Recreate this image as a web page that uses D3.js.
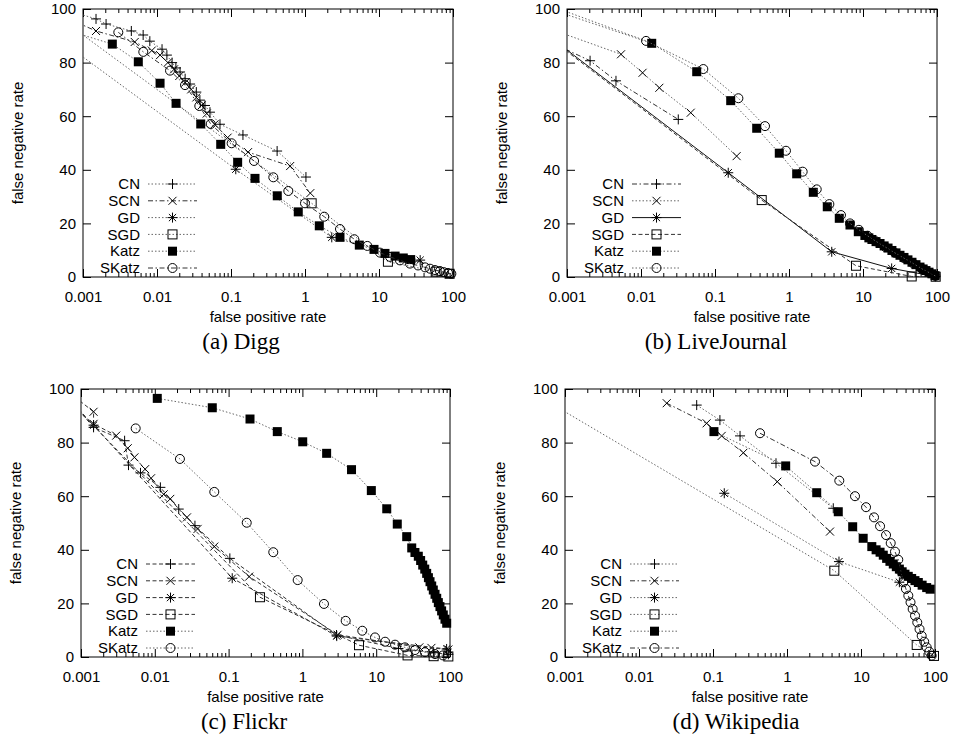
<!DOCTYPE html>
<html>
<head>
<meta charset="utf-8">
<script src="https://cdn.jsdelivr.net/npm/d3@7"></script>
<style>
    body { margin: 0; background: #fff; }
    svg text { font-family: "Liberation Sans", Arial, sans-serif; font-size: 15px; fill: #000; }
    svg text.caption { font-family: "Liberation Serif", "Times New Roman", serif; font-size: 23px; }
</style>
</head>
<body>
<div id="chart"></div>
<script>
// ---- data (false positive rate, false negative rate) ----
const methods = ["CN", "SCN", "GD", "SGD", "Katz", "SKatz"];
const xTicks = [0.001, 0.01, 0.1, 1, 10, 100];
const yTicks = [0, 20, 40, 60, 80, 100];

// (a) Digg
const diggCN = [[0.0006, 99.6], [0.0015, 96.3], [0.00205, 94.4], [0.0045, 91.8], [0.0065, 90.3], [0.008, 88], [0.0117, 85],
    [0.0136, 82.8], [0.016, 80], [0.018, 78], [0.0205, 76.5], [0.024, 74], [0.028, 72], [0.034, 69], [0.038, 66],
    [0.0445, 64], [0.052, 61.5], [0.071, 57], [0.145, 53], [0.42, 47], [1.03, 37.3]];
const diggSCN = [[0.0006, 96.7], [0.0015, 91.8], [0.005, 87.7], [0.0085, 84.5], [0.011, 82.8], [0.014, 80], [0.017, 77.5],
    [0.02, 75], [0.024, 72.5], [0.029, 70], [0.034, 67], [0.04, 64], [0.047, 61], [0.06, 57], [0.09, 52], [0.17, 46.6],
    [0.63, 41.4], [1.18, 31.3]];
const diggGD = [[0.0005, 88.2], [0.116, 40.2], [2.3, 14.8], [36, 6.3]];
const diggSGD = [[0.0005, 96.4], [1.23, 27.5], [13.2, 5.7], [60, 2], [90, 1.2]];
const diggKatz = [[0.0005, 92.8], [0.00249, 86.9], [0.00559, 80.3], [0.011, 72.3], [0.0181, 64.8], [0.039, 57.1],
    [0.0726, 49.5], [0.123, 42.8], [0.211, 36.8], [0.422, 30.3], [0.811, 24.3], [1.56, 19.1], [2.97, 14.8], [5.42, 11.9],
    [8.56, 10.3], [12.05, 8.8], [16.5, 7.8], [21.3, 7.1], [26.8, 6.5]];
const diggSKatz = [[0.003, 91.3], [0.00653, 84], [0.015, 77], [0.0239, 71.6], [0.0373, 63.8], [0.0532, 57.1], [0.102, 49.9],
    [0.205, 43.3], [0.373, 37.2], [0.595, 32.1], [1.0, 27.5], [1.82, 22.5], [2.97, 17.9], [4.64, 14.1], [6.95, 11.6],
    [10.3, 9.1], [14.1, 7.5], [19.2, 6.2], [26.2, 5], [33.7, 4.3], [41.9, 3.6], [48.9, 3.1], [57.1, 2.6], [66.7, 2.2],
    [75.5, 1.8], [85.5, 1.5], [95, 1.2]];

// (b) LiveJournal
const ljCN = [[0.0005, 88.6], [0.00205, 80.7], [0.00459, 73.2], [0.0319, 58.8]];
const ljSCN = [[0.0005, 93.3], [0.00537, 83.1], [0.0105, 76.2], [0.0177, 70.6], [0.047, 61.3], [0.196, 45.1]];
const ljGD = [[0.0005, 91], [0.151, 38.9], [3.78, 9.4], [24.4, 3.2], [95, 0.2]];
const ljSGD = [[0.0005, 90.5], [0.428, 28.7], [8.04, 4.2], [45.5, 0.2], [96, 0.1]];
const ljKatz = [[0.0007, 99.3], [0.01396, 87.2], [0.0566, 76.6], [0.163, 65.8], [0.366, 55.5], [0.739, 46.2], [1.27, 38.5],
    [2.13, 31.6], [3.29, 26.2], [4.78, 21.9], [6.67, 19.4], [8.64, 16.9], [10.6, 15.5], [12, 14.6], [13.2, 14], [15, 13.2],
    [17, 12.5], [19.3, 11.6], [21.8, 10.8], [24.6, 9.9], [27.9, 9], [31.6, 8.1], [35.8, 7.3], [40.5, 6.4], [45.9, 5.5],
    [52, 4.6], [58.9, 3.7], [65, 3], [71, 2.4], [78, 1.8], [85.5, 1.2], [94, 0.5]];
const ljSKatz = [[0.0007, 100.5], [0.0117, 88.1], [0.0695, 77.6], [0.207, 66.7], [0.474, 56.3], [0.91, 47.1], [1.53, 39.3],
    [2.37, 32.7], [3.51, 27.2], [5.04, 23.1], [6.67, 20], [8.8, 17.6], [11.5, 15.4], [15, 13.3], [20, 11.2], [27, 9],
    [36, 7], [48, 5], [63, 3], [80, 1.5], [95, 0.4]];

// (c) Flickr
const flCN = [[0.0007, 96], [0.00148, 85.7], [0.0039, 80.7], [0.0044, 71.6], [0.0064, 68.7], [0.0119, 63.3], [0.0211, 55.2],
    [0.035, 49], [0.104, 36.8], [2.9, 8.2], [20, 3.2], [60, 1.6], [95, 1]];
const flSCN = [[0.0007, 98.6], [0.00148, 91.5], [0.00148, 87], [0.003, 82.6], [0.0043, 77.9], [0.0053, 74.5], [0.0074, 70.1],
    [0.0089, 66.7], [0.0132, 60.7], [0.0162, 59], [0.0273, 52.1], [0.038, 47.8], [0.064, 41.2], [0.19, 30], [3, 8.3],
    [38.4, 3.6], [56, 3.4], [95, 2.8]];
const flGD = [[0.0007, 96], [0.00148, 86.5], [0.112, 29.4], [2.92, 7.8], [90, 3]];
const flSGD = [[0.0007, 95.5], [0.266, 22.3], [5.85, 4.4], [26.6, 0.6], [60, 0.3], [95, 0.2]];
const flKatz = [[0.0108, 96.5], [0.0601, 93], [0.195, 88.8], [0.457, 84.1], [1.01, 80.3], [2.13, 76], [4.63, 69.9],
    [8.59, 62.1], [13.9, 55.3], [19.3, 49.6], [25.9, 44.9], [30.3, 40.7], [33.5, 39], [37.2, 37.6], [40, 36], [42.7, 34.3],
    [45.5, 32.8], [48.3, 31.2], [51, 29.6], [53.6, 28.1], [56.5, 26.5], [59.4, 25], [62.7, 23.4], [66.1, 21.9],
    [69.5, 20.3], [73.1, 18.8], [77, 17.2], [81.1, 15.7], [85.5, 14.1], [90.2, 12.6]];
const flSKatz = [[0.00551, 85.3], [0.0219, 73.9], [0.064, 61.6], [0.176, 50.1], [0.403, 39.1], [0.863, 28.7], [1.96, 19.8],
    [3.86, 13.5], [6.48, 9.8], [9.63, 7.3], [13.2, 5.7], [18, 4.6], [24.5, 3.6], [33.6, 2.6], [45.8, 1.8], [62.6, 1.1],
    [80.4, 0.6]];

// (d) Wikipedia
const wkCN = [[0.0602, 94], [0.124, 88.4], [0.232, 82.5], [0.71, 72.3], [4.22, 55.5]];
const wkSCN = [[0.0237, 94.7], [0.082, 87.2], [0.131, 82.5], [0.257, 76.2], [0.739, 65.4], [3.81, 46.8]];
const wkGD = [[0.142, 61.1], [5.04, 35.6], [33, 27.9]];
const wkSGD = [[0.0005, 96.4], [4.36, 32.2], [56.6, 4.5], [96.9, 0.4]];
const wkKatz = [[0.103, 84.1], [0.96, 71.3], [2.52, 61.3], [4.93, 54.2], [7.72, 48.6], [10.7, 44.3], [14, 41.2], [16, 40],
    [18.1, 39.1], [20, 38], [22.2, 36.8], [24.6, 35.7], [27.3, 34.7], [30, 33.7], [33, 32.8], [36, 31.8], [39.3, 30.9],
    [43.5, 30.1], [48.4, 29.3], [53.6, 28.5], [59.5, 27.8], [67, 26.8], [77.2, 25.9], [86, 25.3]];
const wkSKatz = [[0.432, 83.5], [2.39, 72.9], [5.09, 65.8], [8.3, 60], [11.7, 55.9], [15, 52.1], [18.1, 48.8], [21.8, 45.5],
    [25.2, 42.5], [28.8, 39.3], [31.9, 36.3], [34.6, 32], [37.3, 27.9], [40.5, 25.4], [43.6, 22.9], [46.7, 20.4],
    [49.9, 17.9], [53.7, 15.4], [57.6, 12.9], [61.8, 10.4], [66.1, 7.9], [71.5, 5.7], [77.2, 3.6], [83.5, 2], [90.2, 0.5]];

// ---- styles ----
const markerOf = {CN: "plus", SCN: "cross", GD: "star", SGD: "square", Katz: "fsquare", SKatz: "circle"};
const dashStyles = {
    dot: {dash: "1.5,2", color: "#666"},
    dashdot: {dash: "5,2.5,1.5,2.5", color: "#333"},
    dash: {dash: "4,2.5", color: "#333"},
    solid: {dash: null, color: "#111"}
};
const styleA = {CN: "dot", SCN: "dashdot", GD: "dot", SGD: "dot", Katz: "dot", SKatz: "dashdot"};
const styleB = {CN: "dashdot", SCN: "dot", GD: "solid", SGD: "dash", Katz: "dot", SKatz: "dot"};
const styleC = {CN: "dash", SCN: "dash", GD: "dash", SGD: "dash", Katz: "dot", SKatz: "dot"};

// captions are centred on the whole sub-figure (incl. the y title)
const panels = [
    {caption: "(a) Digg", series: [diggCN, diggSCN, diggGD, diggSGD, diggKatz, diggSKatz], style: styleA,
        box: {left: 83, right: 453, top: 9, bottom: 277}, capX: 241},
    {caption: "(b) LiveJournal", series: [ljCN, ljSCN, ljGD, ljSGD, ljKatz, ljSKatz], style: styleB,
        box: {left: 567, right: 937, top: 9, bottom: 277}, capX: 716},
    {caption: "(c) Flickr", series: [flCN, flSCN, flGD, flSGD, flKatz, flSKatz], style: styleC,
        box: {left: 81, right: 450, top: 389, bottom: 657}, capX: 244},
    {caption: "(d) Wikipedia", series: [wkCN, wkSCN, wkGD, wkSGD, wkKatz, wkSKatz], style: styleA,
        box: {left: 565, right: 935, top: 389, bottom: 657}, capX: 736}
];

const svg = d3.select("#chart").append("svg")
    .attr("width", 955)
    .attr("height", 737);

function drawMarker(g, type) {
    if (type === "plus") {
        g.append("path").attr("d", "M-5,0H5M0,-5V5").attr("stroke", "#000").attr("fill", "none");
    } else if (type === "cross") {
        g.append("path").attr("d", "M-4,-4L4,4M-4,4L4,-4").attr("stroke", "#000").attr("fill", "none");
    } else if (type === "star") {
        g.append("path").attr("d", "M-5,0H5M0,-5V5M-3.6,-3.6L3.6,3.6M-3.6,3.6L3.6,-3.6")
            .attr("stroke", "#000").attr("fill", "none");
    } else if (type === "square") {
        g.append("rect").attr("x", -4.5).attr("y", -4.5).attr("width", 9).attr("height", 9)
            .attr("stroke", "#000").attr("fill", "none");
    } else if (type === "fsquare") {
        g.append("rect").attr("x", -4.5).attr("y", -4.5).attr("width", 9).attr("height", 9)
            .attr("fill", "#000");
    } else if (type === "circle") {
        g.append("circle").attr("r", 4.5).attr("stroke", "#000").attr("fill", "none");
    }
}

panels.forEach((p, pi) => {
    let b = p.box;
    let x = d3.scaleLog().domain([0.001, 100]).range([b.left, b.right]);
    let y = d3.scaleLinear().domain([0, 100]).range([b.bottom, b.top]);
    let g = svg.append("g");

    // clip for lines
    let clipId = "clip" + pi;
    svg.append("clipPath").attr("id", clipId)
        .append("rect")
        .attr("x", b.left).attr("y", b.top)
        .attr("width", b.right - b.left).attr("height", b.bottom - b.top);

    // minor log ticks
    let minor = [];
    xTicks.slice(0, -1).forEach(t => {
        for (let k = 2; k < 10; k++) minor.push(t * k);
    });

    let axes = g.append("g");
    axes.append("g").attr("transform", "translate(0," + b.bottom + ")")
        .call(d3.axisBottom(x).tickValues(xTicks).tickSize(-8).tickPadding(14).tickFormat(d => String(d)));
    axes.append("g").attr("transform", "translate(0," + b.bottom + ")")
        .call(d3.axisBottom(x).tickValues(minor).tickSize(-4).tickFormat(""));
    axes.append("g").attr("transform", "translate(0," + b.top + ")")
        .call(d3.axisTop(x).tickValues(xTicks).tickSize(-8).tickFormat(""));
    axes.append("g").attr("transform", "translate(0," + b.top + ")")
        .call(d3.axisTop(x).tickValues(minor).tickSize(-4).tickFormat(""));
    axes.append("g").attr("transform", "translate(" + b.left + ",0)")
        .call(d3.axisLeft(y).tickValues(yTicks).tickSize(-8).tickPadding(7));
    axes.append("g").attr("transform", "translate(" + b.right + ",0)")
        .call(d3.axisRight(y).tickValues(yTicks).tickSize(-8).tickFormat(""));
    axes.selectAll(".domain").remove();
    axes.selectAll("text").attr("font-family", null).attr("font-size", null);
    axes.selectAll(".tick line").attr("stroke", "#000");

    g.append("rect")
        .attr("x", b.left).attr("y", b.top)
        .attr("width", b.right - b.left).attr("height", b.bottom - b.top)
        .attr("fill", "none").attr("stroke", "#000");

    // axis titles and caption
    let cx = (b.left + b.right) / 2;
    g.append("text").attr("x", cx).attr("y", b.bottom + 45).attr("text-anchor", "middle")
        .text("false positive rate");
    g.append("text").attr("class", "caption").attr("x", p.capX).attr("y", b.bottom + 72).attr("text-anchor", "middle")
        .text(p.caption);
    g.append("text")
        .attr("transform", "translate(" + (b.left - 60) + "," + ((b.top + b.bottom) / 2) + ") rotate(-90)")
        .attr("text-anchor", "middle")
        .text("false negative rate");

    let line = d3.line().x(d => x(d[0])).y(d => y(d[1]));

    methods.forEach((m, i) => {
        let data = p.series[i];
        let st = dashStyles[p.style[m]];

        g.append("path")
            .datum(data)
            .attr("d", line)
            .attr("clip-path", "url(#" + clipId + ")")
            .attr("fill", "none")
            .attr("stroke", st.color)
            .attr("stroke-width", 1)
            .attr("stroke-dasharray", st.dash);

        g.selectAll(".pt" + i)
            .data(data.filter(d => d[0] >= 0.001))
            .enter()
            .append("g")
            .attr("transform", d => "translate(" + x(d[0]) + "," + y(d[1]) + ")")
            .each(function () { drawMarker(d3.select(this), markerOf[m]); });

        // legend entry
        let ly = b.bottom - 93 + i * 16.8;
        g.append("text").attr("x", b.left + 57).attr("y", ly).attr("dy", "0.35em")
            .attr("text-anchor", "end").text(m);
        g.append("line")
            .attr("x1", b.left + 65).attr("x2", b.left + 114)
            .attr("y1", ly).attr("y2", ly)
            .attr("stroke", st.color).attr("stroke-dasharray", st.dash);
        let lg = g.append("g").attr("transform", "translate(" + (b.left + 89.5) + "," + ly + ")");
        drawMarker(lg, markerOf[m]);
    });
});
</script>
</body>
</html>
